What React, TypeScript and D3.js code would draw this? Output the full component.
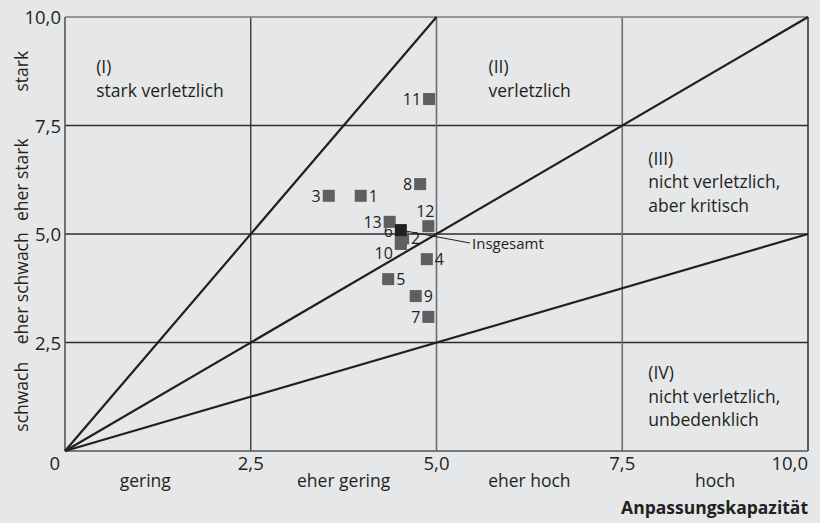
import React from "react";
import * as d3 from "d3";

// ---- data ----
const pointIds = ["1", "2", "3", "4", "5", "6", "7", "8", "9", "10", "11", "12", "13"];
const adaptValues = [3.98, 4.55, 3.55, 4.87, 4.35, 4.52, 4.89, 4.78, 4.72, 4.52, 4.9, 4.89, 4.37];
const exposureValues = [5.88, 4.9, 5.88, 4.42, 3.96, 4.86, 3.09, 6.15, 3.57, 4.77, 8.11, 5.18, 5.28];
const labelSides = ["right", "right", "left", "right", "right", "left", "left", "left", "right", "left", "left", "top", "left"];
const labelRows = [0, 0, 0, 0, 0, -1, 0, 0, 0, 1, 0, 0, 0];
const totalPoint = { label: "Insgesamt", x: 4.52, y: 5.09 };

const tickValues = [0, 2.5, 5, 7.5, 10];
const tickLabels = ["0", "2,5", "5,0", "7,5", "10,0"];
const xCategories = ["gering", "eher gering", "eher hoch", "hoch"];
const xCategoryCenters = [1.08, 3.75, 6.25, 8.75];
const yCategories = ["schwach", "eher schwach", "eher stark", "stark"];
const yCategoryCenters = [1.25, 3.75, 6.25, 8.75];
const diagonalEnds = [
  [5, 10],
  [10, 10],
  [10, 5],
];
const regionTexts = [
  { x: 0.42, y: 8.7, lines: ["(I)", "stark verletzlich"] },
  { x: 5.7, y: 8.7, lines: ["(II)", "verletzlich"] },
  { x: 7.85, y: 6.6, lines: ["(III)", "nicht verletzlich,", "aber kritisch"] },
  { x: 7.85, y: 1.65, lines: ["(IV)", "nicht verletzlich,", "unbedenklich"] },
];
const xAxisTitle = "Anpassungskapazität";

const W = 820;
const H = 523;
const FONT = "'Open Sans', 'Noto Sans', sans-serif";
const TEXT = "#231f20";

export default function App() {
  const x = d3.scaleLinear().domain([0, 10]).range([65, 808]);
  const y = d3.scaleLinear().domain([0, 10]).range([451, 17]);
  const sq = 12;
  const line = d3.line<[number, number]>().x((d) => x(d[0])).y((d) => y(d[1]));

  return (
    <svg
      width={W}
      height={H}
      style={{ position: "absolute", left: 0, top: 0, fontFamily: FONT }}
    >
      <rect x={0} y={0} width={W} height={H} fill="#e6e7e9" />

      {/* grid lines */}
      {[2.5, 5, 7.5].map((v) => (
        <line key={"h" + v} x1={x(0)} x2={x(10)} y1={y(v)} y2={y(v)} stroke="#2e2b2c" strokeWidth={1.3} />
      ))}
      {[2.5, 5, 7.5].map((v) => (
        <line
          key={"v" + v}
          x1={x(v)}
          x2={x(v)}
          y1={y(0)}
          y2={y(10)}
          stroke={v === 2.5 ? "#2e2b2c" : "#6e6e70"}
          strokeWidth={v === 2.5 ? 1.3 : 1.6}
        />
      ))}
      {/* frame */}
      <line x1={x(0)} x2={x(10)} y1={y(10)} y2={y(10)} stroke="#7a7a7c" strokeWidth={1.5} />
      <line x1={x(10)} x2={x(10)} y1={y(0)} y2={y(10)} stroke="#2e2b2c" strokeWidth={1.5} />
      <line x1={x(0)} x2={x(0)} y1={y(0)} y2={y(10)} stroke="#555557" strokeWidth={1.6} />
      <line x1={x(0)} x2={x(10)} y1={y(0)} y2={y(0)} stroke="#555557" strokeWidth={1.6} />

      {/* diagonals */}
      {diagonalEnds.map((e, i) => (
        <path key={"d" + i} d={line([[0, 0], [e[0], e[1]]]) || ""} stroke={TEXT} strokeWidth={2.2} fill="none" />
      ))}

      {/* region texts */}
      {regionTexts.map((r, i) => (
        <text key={"r" + i} x={x(r.x)} y={y(r.y)} fill={TEXT} fontSize={17.5}>
          {r.lines.map((l, j) => (
            <tspan key={j} x={x(r.x)} dy={j === 0 ? 0 : 23.5}>
              {l}
            </tspan>
          ))}
        </text>
      ))}

      {/* y tick labels */}
      {tickValues.slice(1).map((v, i) => (
        <text key={"yt" + v} x={61} y={y(v) + 7} textAnchor="end" fontSize={18.5} fill={TEXT}>
          {tickLabels[i + 1]}
        </text>
      ))}
      {/* x tick labels */}
      {tickValues.map((v, i) => (
        <text
          key={"xt" + v}
          x={i === 0 ? x(v) - 5 : x(v)}
          y={470}
          textAnchor={i === 0 ? "end" : i === tickValues.length - 1 ? "end" : "middle"}
          fontSize={18.5}
          fill={TEXT}
        >
          {tickLabels[i]}
        </text>
      ))}

      {/* x categories */}
      {xCategories.map((c, i) => (
        <text key={"xc" + c} x={x(xCategoryCenters[i])} y={487} textAnchor="middle" fontSize={17.5} fill={TEXT}>
          {c}
        </text>
      ))}
      {/* y categories */}
      {yCategories.map((c, i) => (
        <text
          key={"yc" + c}
          transform={`translate(28,${y(yCategoryCenters[i])}) rotate(-90)`}
          textAnchor="middle"
          fontSize={17.5}
          fill={TEXT}
        >
          {c}
        </text>
      ))}

      <text x={x(10)} y={514} textAnchor="end" fontSize={17.5} fontWeight="bold" fill={TEXT}>
        {xAxisTitle}
      </text>

      {/* points */}
      {pointIds.map((id, i) => {
        const px = x(adaptValues[i]);
        const py = y(exposureValues[i]);
        const side = labelSides[i];
        let lx = px;
        let ly = py + 6 + labelRows[i] * 9;
        let anchor: "start" | "end" | "middle" = "start";
        if (side === "left") {
          lx = px - sq / 2 - 2;
          anchor = "end";
        } else if (side === "right") {
          lx = px + sq / 2 + 2;
        } else {
          lx = px - 3;
          ly = py - sq / 2 - 3;
          anchor = "middle";
        }
        return (
          <g key={"p" + id}>
            <rect x={px - sq / 2} y={py - sq / 2} width={sq} height={sq} fill="#5f5f61" />
            <text x={lx} y={ly} textAnchor={anchor} fontSize={16} fill={TEXT}>
              {id}
            </text>
          </g>
        );
      })}

      {/* total */}
      <line x1={x(totalPoint.x)} y1={y(totalPoint.y)} x2={470} y2={243} stroke={TEXT} strokeWidth={1} />
      <rect x={x(totalPoint.x) - sq / 2} y={y(totalPoint.y) - sq / 2} width={sq} height={sq} fill="#231f20" />
      <text x={472} y={249} fontSize={15} fill={TEXT}>
        {totalPoint.label}
      </text>
    </svg>
  );
}
